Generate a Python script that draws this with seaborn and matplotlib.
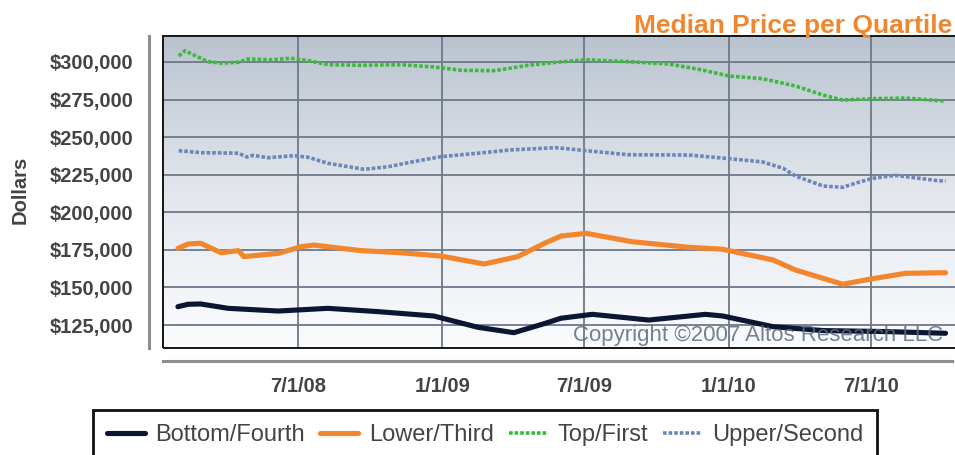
import numpy as np
import pandas as pd
import matplotlib
matplotlib.use("Agg")
import matplotlib.pyplot as plt
import matplotlib.dates as mdates
from matplotlib.colors import LinearSegmentedColormap
from matplotlib.patches import Rectangle
import seaborn as sns

# values
bottom_dates = ["2008-01-30", "2008-02-12", "2008-02-28", "2008-04-03", "2008-06-06",
                "2008-08-08", "2008-10-11", "2008-12-21", "2009-02-15", "2009-04-02",
                "2009-05-12", "2009-06-01", "2009-07-11", "2009-09-21", "2009-12-02",
                "2009-12-24", "2010-02-26", "2010-05-01", "2010-07-23", "2010-10-04"]
bottom_values = [137200, 138800, 139000, 136100, 134300,
                 136100, 133900, 131000, 123500, 119900,
                 126100, 129500, 132100, 128300, 132100,
                 131000, 123900, 121300, 120600, 119500]

lower_dates = ["2008-01-30", "2008-02-12", "2008-02-28", "2008-03-25", "2008-04-16",
               "2008-04-23", "2008-06-06", "2008-07-05", "2008-07-21", "2008-09-19",
               "2008-11-09", "2008-12-30", "2009-02-23", "2009-04-07", "2009-05-12",
               "2009-06-01", "2009-07-03", "2009-08-31", "2009-11-11", "2009-12-24",
               "2010-02-26", "2010-03-27", "2010-05-26", "2010-07-03", "2010-08-14",
               "2010-10-04"]
lower_values = [176000, 178900, 179400, 173100, 174500,
                170500, 172700, 177100, 178200, 174500,
                173100, 170900, 165600, 170500, 179600,
                184200, 186000, 180400, 176700, 175400,
                168300, 161600, 152100, 155800, 159400,
                159800]

top_dates = ["2008-01-31", "2008-02-08", "2008-02-19", "2008-03-08", "2008-03-25",
             "2008-04-16", "2008-04-28", "2008-05-28", "2008-06-22", "2008-07-14",
             "2008-08-08", "2008-09-19", "2008-11-09", "2008-12-21", "2009-01-25",
             "2009-03-08", "2009-04-20", "2009-05-26", "2009-07-03", "2009-08-19",
             "2009-10-16", "2009-11-24", "2010-01-01", "2010-02-13", "2010-03-27",
             "2010-05-01", "2010-05-26", "2010-07-03", "2010-08-14", "2010-09-25",
             "2010-10-04"]
top_values = [304000, 307500, 304700, 300200, 299300,
              299800, 302000, 301500, 302500, 300900,
              298200, 297800, 298200, 296700, 294500,
              294200, 297800, 299800, 301500, 300400,
              298700, 295100, 290700, 288900, 284000,
              278000, 274700, 275600, 276000, 274300,
              274000]

upper_dates = ["2008-01-31", "2008-02-28", "2008-04-16", "2008-04-27", "2008-05-05",
               "2008-05-24", "2008-06-26", "2008-07-14", "2008-08-08", "2008-09-23",
               "2008-10-24", "2008-11-25", "2008-12-30", "2009-02-15", "2009-03-29",
               "2009-05-26", "2009-07-03", "2009-08-26", "2009-11-11", "2010-01-01",
               "2010-02-13", "2010-03-11", "2010-03-27", "2010-05-01", "2010-05-26",
               "2010-06-11", "2010-07-03", "2010-08-01", "2010-09-25", "2010-10-04"]
upper_values = [241000, 239700, 239300, 236800, 237900,
                236300, 237700, 236600, 232600, 228600,
                230300, 233700, 237000, 239300, 241500,
                243000, 241000, 238300, 238100, 235700,
                233500, 229300, 224100, 217500, 216600,
                219300, 222600, 224600, 221000, 220800]

series_names = ["Bottom/Fourth", "Lower/Third", "Top/First", "Upper/Second"]
x_tick_dates = ["2008-07-01", "2009-01-01", "2009-07-01", "2010-01-01", "2010-07-01"]
x_tick_labels = ["7/1/08", "1/1/09", "7/1/09", "1/1/10", "7/1/10"]
y_ticks = [125000, 150000, 175000, 200000, 225000, 250000, 275000, 300000]
y_tick_labels = [f"${v:,}" for v in y_ticks]

colors = ["#0b1632", "#f2862c", "#3dba3d", "#6b86b8"]
dotted = (0, (1.0, 0.55))
styles = [dict(lw=3.7, ls="-"), dict(lw=3.7, ls="-"),
          dict(lw=2.6, ls=dotted), dict(lw=2.6, ls=dotted)]

sns.set_theme(style="white")
plt.rcParams["font.family"] = ["Liberation Sans", "DejaVu Sans"]
plt.rcParams["font.weight"] = "bold"

W, H = 955, 455
fig = plt.figure(figsize=(W / 100, H / 100), dpi=100)
rect = [163 / W, 1 - 348 / H, (962 - 163) / W, 312 / H]

# gradient background in its own axes behind the chart
bg = fig.add_axes(rect, zorder=0)
cmap = LinearSegmentedColormap.from_list("bg", ["#fbfcfe", "#e3e7ed", "#b9c3cf"])
bg.imshow(np.linspace(0, 1, 256).reshape(-1, 1)[::-1], aspect="auto", cmap=cmap,
          extent=[0, 1, 0, 1])
bg.axis("off")

ax = fig.add_axes(rect, zorder=1)
ax.patch.set_alpha(0)

all_dates = [bottom_dates, lower_dates, top_dates, upper_dates]
all_values = [bottom_values, lower_values, top_values, upper_values]
for name, d, v, c, st in zip(series_names, all_dates, all_values, colors, styles):
    sns.lineplot(x=pd.to_datetime(d), y=v, ax=ax, color=c, label=name,
                 linewidth=st["lw"], linestyle=st["ls"], solid_capstyle="round")

x_left = pd.Timestamp("2008-01-11")
x_right = pd.Timestamp("2010-10-25")
ax.set_xlim(x_left, x_right)
ax.set_ylim(109700, 317300)

ax.set_xticks(pd.to_datetime(x_tick_dates), x_tick_labels)
ax.set_yticks(y_ticks, y_tick_labels)
ax.tick_params(axis="both", direction="out", length=4.5, width=1.6, color="#8e8e8e",
               labelsize=14.5, labelcolor="#444444", pad=7)
for t in ax.get_xticklabels() + ax.get_yticklabels():
    t.set_fontweight("bold")

ax.grid(True, color="#6c7989", linewidth=1.3)
ax.set_axisbelow(True)

for side in ["top", "right"]:
    ax.spines[side].set_visible(False)
ax.spines["left"].set_position(("outward", 10))
ax.spines["bottom"].set_position(("outward", 9.5))
for side in ["left", "bottom"]:
    ax.spines[side].set_color("#8e8e8e")
    ax.spines[side].set_linewidth(2.2)
ax.spines["bottom"].set_bounds(mdates.date2num(x_left), mdates.date2num(pd.Timestamp("2010-10-12")))

ax.add_patch(Rectangle((0, 0), 1, 1, transform=ax.transAxes, fill=False,
                       edgecolor="#151515", linewidth=1.4, clip_on=False, zorder=4))

ax.set_xlabel("")
ax.set_ylabel("")
fig.text(20 / W, 1 - 190 / H, "Dollars", rotation=90, ha="center", va="center",
         fontsize=14.5, fontweight="bold", color="#444444")

fig.text(952 / W, 1 - 33 / H, "Median Price per Quartile", ha="right", va="baseline",
         fontsize=19, fontweight="bold", color="#f0872e")

ax.text((573 - 163) / (962 - 163), (348 - 341.5) / 312, "Copyright \u00a92007 Altos Research LLC",
        transform=ax.transAxes, ha="left", va="baseline", fontsize=16, fontweight="normal",
        color="#5c6c82", alpha=0.85, zorder=5)

handles, labels = ax.get_legend_handles_labels()
ax.get_legend().remove()
leg = fig.legend(handles, labels, loc="upper center", bbox_to_anchor=(485 / W, 1 - 410 / H),
                 ncol=4, frameon=True, fancybox=False, framealpha=1,
                 prop={"size": 17, "weight": "normal"},
                 handlelength=1.6, handletextpad=0.45, columnspacing=0.65,
                 borderpad=0.6, borderaxespad=0)
leg.get_frame().set_edgecolor("#111111")
leg.get_frame().set_linewidth(2)
for t in leg.get_texts():
    t.set_color("#444444")

fig.savefig("out.png", dpi=100)
